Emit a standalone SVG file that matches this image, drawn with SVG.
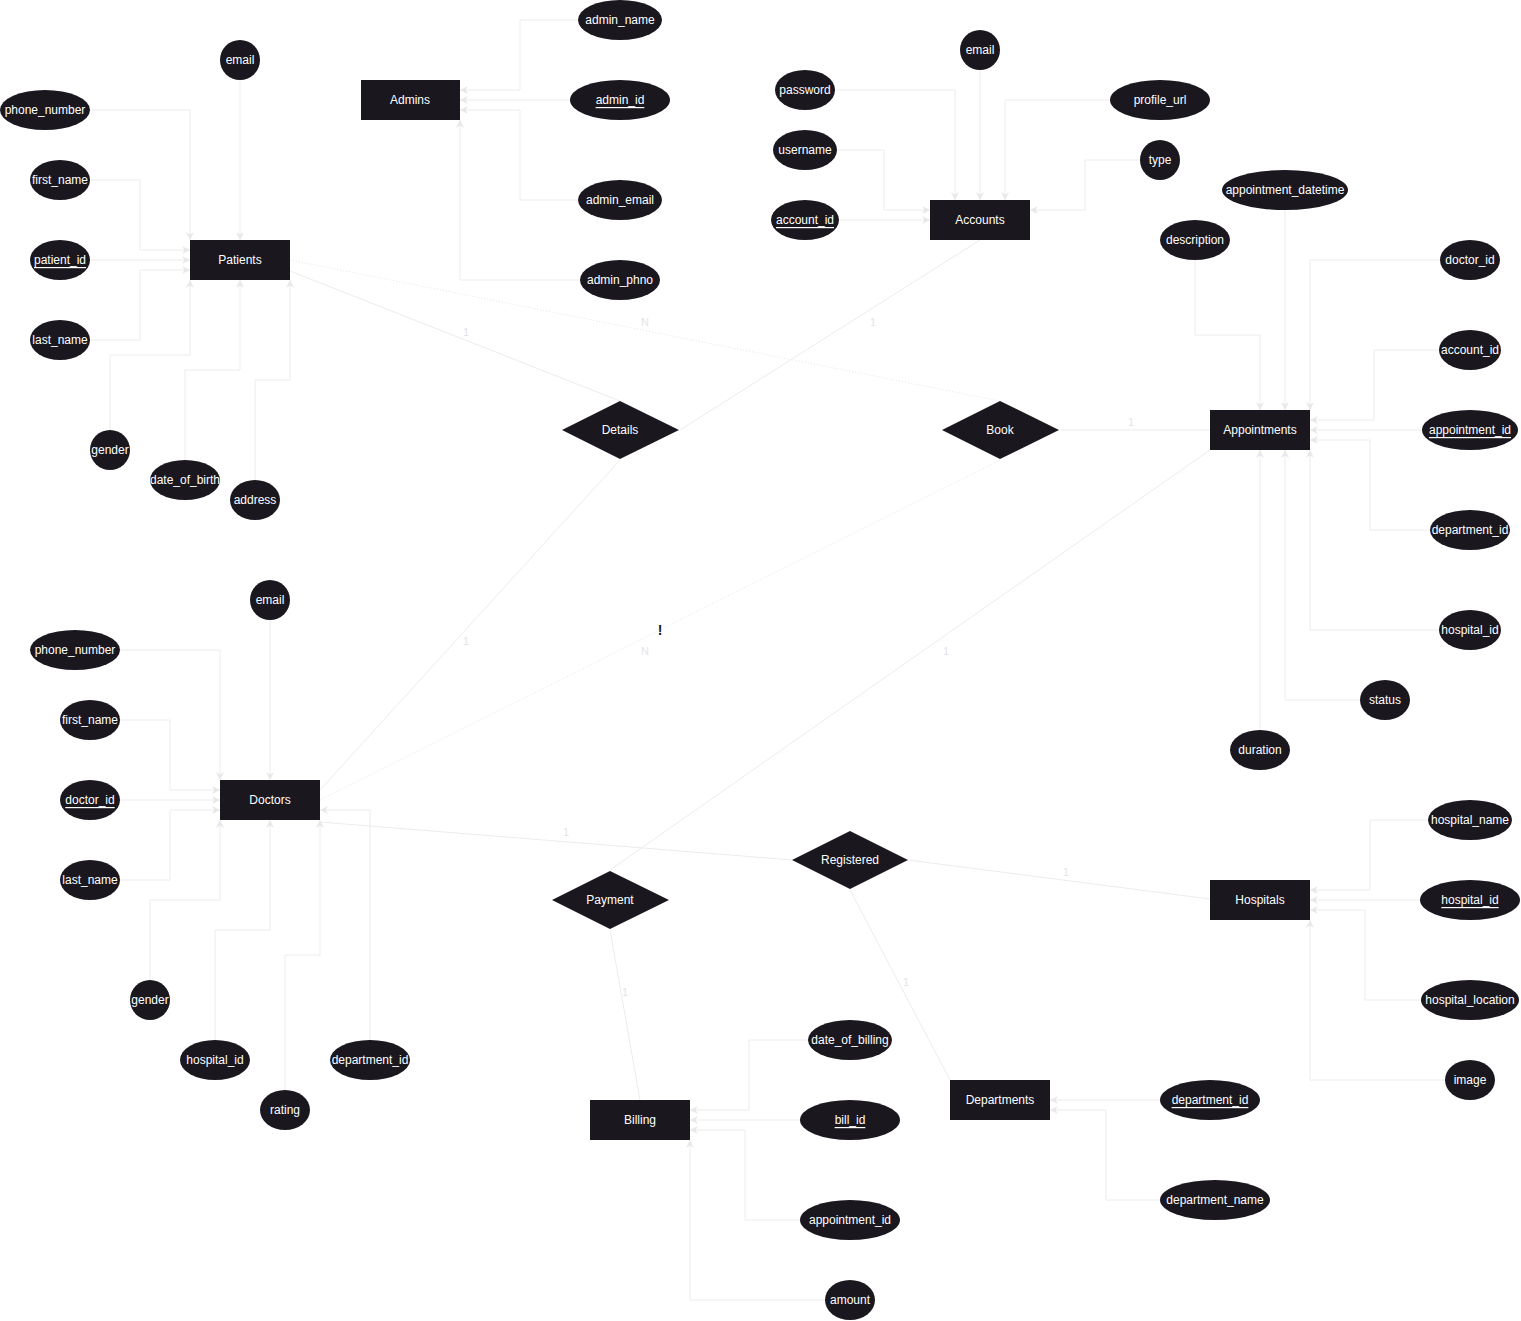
<svg xmlns="http://www.w3.org/2000/svg" width="1521" height="1321" viewBox="0 0 1521 1321">
  <style>
    .ent { fill: #1a171f; }
    .att { fill: #1a171f; }
    .rel { fill: #1a171f; }
    .t { font-family: "Liberation Sans", Arial, sans-serif; font-size: 12px; fill: #ffffff; text-anchor: middle; dominant-baseline: central; }
    .pk { text-decoration: underline; }
    .ln { fill: none; stroke: #ececec; stroke-width: 1; }
    .dot { fill: none; stroke: #e6e6e6; stroke-width: 1; stroke-dasharray: 1 2; }
    .card { font-family: "Liberation Sans", Arial, sans-serif; font-size: 11px; fill: #e4e4e4; text-anchor: middle; dominant-baseline: central; }
  </style>
  <defs>
    <marker id="arr" viewBox="0 0 10 10" refX="10" refY="5" markerWidth="8" markerHeight="8" orient="auto" markerUnits="userSpaceOnUse">
      <path d="M0,0 L10,5 L0,10 L3,5 z" fill="#e8e8e8"/>
    </marker>
  </defs>
  <rect width="1521" height="1321" fill="#ffffff"/>

  <!-- connectors -->
  <g id="connectors">
    <!-- Patients attributes -->
    <path class="ln" d="M90,110 H190 V240" marker-end="url(#arr)"/>
    <path class="ln" d="M240,80 V240" marker-end="url(#arr)"/>
    <path class="ln" d="M90,180 H140 V250 H190" marker-end="url(#arr)"/>
    <path class="ln" d="M90,260 H190" marker-end="url(#arr)"/>
    <path class="ln" d="M90,340 H140 V270 H190" marker-end="url(#arr)"/>
    <path class="ln" d="M110,430 V355 H190 V280" marker-end="url(#arr)"/>
    <path class="ln" d="M185,460 V370 H240 V280" marker-end="url(#arr)"/>
    <path class="ln" d="M255,480 V380 H290 V280" marker-end="url(#arr)"/>
    <!-- Admins attributes -->
    <path class="ln" d="M580,20 H520 V90 H460" marker-end="url(#arr)"/>
    <path class="ln" d="M570,100 H460" marker-end="url(#arr)"/>
    <path class="ln" d="M580,200 H520 V110 H460" marker-end="url(#arr)"/>
    <path class="ln" d="M580,280 H460 V120" marker-end="url(#arr)"/>
    <!-- Accounts attributes -->
    <path class="ln" d="M980,70 V200" marker-end="url(#arr)"/>
    <path class="ln" d="M835,90 H955 V200" marker-end="url(#arr)"/>
    <path class="ln" d="M837,150 H884 V210 H930" marker-end="url(#arr)"/>
    <path class="ln" d="M838,220 H930" marker-end="url(#arr)"/>
    <path class="ln" d="M1110,100 H1005 V200" marker-end="url(#arr)"/>
    <path class="ln" d="M1140,160 H1085 V210 H1030" marker-end="url(#arr)"/>
    <!-- Appointments attributes -->
    <path class="ln" d="M1285,210 V410" marker-end="url(#arr)"/>
    <path class="ln" d="M1195,260 V335 H1260 V410" marker-end="url(#arr)"/>
    <path class="ln" d="M1440,260 H1310 V410" marker-end="url(#arr)"/>
    <path class="ln" d="M1440,350 H1374 V420 H1310" marker-end="url(#arr)"/>
    <path class="ln" d="M1422,430 H1310" marker-end="url(#arr)"/>
    <path class="ln" d="M1430,530 H1370 V440 H1310" marker-end="url(#arr)"/>
    <path class="ln" d="M1440,630 H1310 V450" marker-end="url(#arr)"/>
    <path class="ln" d="M1360,700 H1285 V450" marker-end="url(#arr)"/>
    <path class="ln" d="M1260,730 V450" marker-end="url(#arr)"/>
    <!-- Doctors attributes -->
    <path class="ln" d="M270,620 V780" marker-end="url(#arr)"/>
    <path class="ln" d="M120,650 H220 V780" marker-end="url(#arr)"/>
    <path class="ln" d="M120,720 H170 V790 H220" marker-end="url(#arr)"/>
    <path class="ln" d="M120,800 H220" marker-end="url(#arr)"/>
    <path class="ln" d="M120,880 H170 V810 H220" marker-end="url(#arr)"/>
    <path class="ln" d="M150,980 V900 H220 V820" marker-end="url(#arr)"/>
    <path class="ln" d="M215,1040 V930 H270 V820" marker-end="url(#arr)"/>
    <path class="ln" d="M285,1090 V955 H320 V820" marker-end="url(#arr)"/>
    <path class="ln" d="M370,1040 V810 H320" marker-end="url(#arr)"/>
    <!-- Hospitals attributes -->
    <path class="ln" d="M1428,820 H1370 V890 H1310" marker-end="url(#arr)"/>
    <path class="ln" d="M1420,900 H1310" marker-end="url(#arr)"/>
    <path class="ln" d="M1421,1000 H1365 V910 H1310" marker-end="url(#arr)"/>
    <path class="ln" d="M1445,1080 H1310 V920" marker-end="url(#arr)"/>
    <!-- Billing attributes -->
    <path class="ln" d="M808,1040 H749 V1110 H690" marker-end="url(#arr)"/>
    <path class="ln" d="M800,1120 H690" marker-end="url(#arr)"/>
    <path class="ln" d="M800,1220 H745 V1130 H690" marker-end="url(#arr)"/>
    <path class="ln" d="M825,1300 H690 V1140" marker-end="url(#arr)"/>
    <!-- Departments attributes -->
    <path class="ln" d="M1160,1100 H1050" marker-end="url(#arr)"/>
    <path class="ln" d="M1160,1200 H1106 V1110 H1050" marker-end="url(#arr)"/>

    <!-- relationships -->
    <path class="ln" d="M290,271 L620,401"/>
    <path class="dot" d="M290,260 L1000,401"/>
    <path class="ln" d="M980,240 L680,430"/>
    <path class="ln" d="M620,460 L320,790"/>
    <path class="dot" d="M1000,460 L320,800"/>
    <path class="ln" d="M1060,430 L1210,430"/>
    <path class="ln" d="M1210,450 L610,870"/>
    <path class="ln" d="M320,822 L792,860"/>
    <path class="ln" d="M908,860 L1210,899"/>
    <path class="ln" d="M850,890 L950,1080"/>
    <path class="ln" d="M610,930 L640,1100"/>

    <text class="card" x="466" y="332">1</text>
    <text class="card" x="645" y="322">N</text>
    <text class="card" x="873" y="322">1</text>
    <text class="card" x="466" y="641">1</text>
    <text class="card" x="645" y="651">N</text>
    <text class="card" x="1131" y="422">1</text>
    <text class="card" x="946" y="651">1</text>
    <text class="card" x="566" y="832">1</text>
    <text class="card" x="1066" y="872">1</text>
    <text class="card" x="906" y="982">1</text>
    <text class="card" x="625" y="992">1</text>
    <text x="660" y="630" font-family="Liberation Sans, Arial, sans-serif" font-size="14" font-weight="bold" fill="#1a171f" text-anchor="middle" dominant-baseline="central">!</text>
  </g>

  <!-- entities -->
  <g id="patients"><rect class="ent" x="190" y="240" width="100" height="40"/><text class="t" x="240" y="260">Patients</text></g>
  <g id="admins"><rect class="ent" x="361" y="80" width="99" height="40"/><text class="t" x="410" y="100">Admins</text></g>
  <g id="accounts"><rect class="ent" x="930" y="200" width="100" height="40"/><text class="t" x="980" y="220">Accounts</text></g>
  <g id="appointments"><rect class="ent" x="1210" y="410" width="100" height="40"/><text class="t" x="1260" y="430">Appointments</text></g>
  <g id="doctors"><rect class="ent" x="220" y="780" width="100" height="40"/><text class="t" x="270" y="800">Doctors</text></g>
  <g id="hospitals"><rect class="ent" x="1210" y="880" width="100" height="40"/><text class="t" x="1260" y="900">Hospitals</text></g>
  <g id="billing"><rect class="ent" x="590" y="1100" width="100" height="40"/><text class="t" x="640" y="1120">Billing</text></g>
  <g id="departments"><rect class="ent" x="950" y="1080" width="100" height="40"/><text class="t" x="1000" y="1100">Departments</text></g>

  <!-- relationships -->
  <g id="rel-details"><polygon class="rel" points="620,401 679,430 620,459 562,430"/><text class="t" x="620" y="430">Details</text></g>
  <g id="rel-book"><polygon class="rel" points="1000,401 1059,430 1000,459 942,430"/><text class="t" x="1000" y="430">Book</text></g>
  <g id="rel-registered"><polygon class="rel" points="850,831 908,860 850,889 792,860"/><text class="t" x="850" y="860">Registered</text></g>
  <g id="rel-payment"><polygon class="rel" points="610,871 669,900 610,929 552,900"/><text class="t" x="610" y="900">Payment</text></g>

  <!-- Patients attributes -->
  <g id="patients-email"><ellipse class="att" cx="240" cy="60" rx="20" ry="20"/><text class="t" x="240" y="60">email</text></g>
  <g id="patients-phone_number"><ellipse class="att" cx="45" cy="110" rx="45" ry="20"/><text class="t" x="45" y="110">phone_number</text></g>
  <g id="patients-first_name"><ellipse class="att" cx="60" cy="180" rx="30" ry="20"/><text class="t" x="60" y="180">first_name</text></g>
  <g id="patients-patient_id"><ellipse class="att" cx="60" cy="260" rx="30" ry="20"/><text class="t pk" x="60" y="260">patient_id</text></g>
  <g id="patients-last_name"><ellipse class="att" cx="60" cy="340" rx="30" ry="20"/><text class="t" x="60" y="340">last_name</text></g>
  <g id="patients-gender"><ellipse class="att" cx="110" cy="450" rx="20" ry="20"/><text class="t" x="110" y="450">gender</text></g>
  <g id="patients-date_of_birth"><ellipse class="att" cx="185" cy="480" rx="35" ry="20"/><text class="t" x="185" y="480">date_of_birth</text></g>
  <g id="patients-address"><ellipse class="att" cx="255" cy="500" rx="25" ry="20"/><text class="t" x="255" y="500">address</text></g>

  <!-- Admins attributes -->
  <g id="admins-admin_name"><ellipse class="att" cx="620" cy="20" rx="42" ry="20"/><text class="t" x="620" y="20">admin_name</text></g>
  <g id="admins-admin_id"><ellipse class="att" cx="620" cy="100" rx="50" ry="20"/><text class="t pk" x="620" y="100">admin_id</text></g>
  <g id="admins-admin_email"><ellipse class="att" cx="620" cy="200" rx="42" ry="20"/><text class="t" x="620" y="200">admin_email</text></g>
  <g id="admins-admin_phno"><ellipse class="att" cx="620" cy="280" rx="40" ry="20"/><text class="t" x="620" y="280">admin_phno</text></g>

  <!-- Accounts attributes -->
  <g id="accounts-email"><ellipse class="att" cx="980" cy="50" rx="20" ry="20"/><text class="t" x="980" y="50">email</text></g>
  <g id="accounts-password"><ellipse class="att" cx="805" cy="90" rx="30" ry="20"/><text class="t" x="805" y="90">password</text></g>
  <g id="accounts-username"><ellipse class="att" cx="805" cy="150" rx="32" ry="20"/><text class="t" x="805" y="150">username</text></g>
  <g id="accounts-account_id"><ellipse class="att" cx="805" cy="220" rx="34" ry="20"/><text class="t pk" x="805" y="220">account_id</text></g>
  <g id="accounts-profile_url"><ellipse class="att" cx="1160" cy="100" rx="50" ry="20"/><text class="t" x="1160" y="100">profile_url</text></g>
  <g id="accounts-type"><ellipse class="att" cx="1160" cy="160" rx="20" ry="20"/><text class="t" x="1160" y="160">type</text></g>

  <!-- Appointments attributes -->
  <g id="appointments-appointment_datetime"><ellipse class="att" cx="1285" cy="190" rx="63" ry="20"/><text class="t" x="1285" y="190">appointment_datetime</text></g>
  <g id="appointments-description"><ellipse class="att" cx="1195" cy="240" rx="35" ry="20"/><text class="t" x="1195" y="240">description</text></g>
  <g id="appointments-doctor_id"><ellipse class="att" cx="1470" cy="260" rx="30" ry="20"/><text class="t" x="1470" y="260">doctor_id</text></g>
  <g id="appointments-account_id"><ellipse class="att" cx="1470" cy="350" rx="31" ry="20"/><text class="t" x="1470" y="350">account_id</text></g>
  <g id="appointments-appointment_id"><ellipse class="att" cx="1470" cy="430" rx="48" ry="20"/><text class="t pk" x="1470" y="430">appointment_id</text></g>
  <g id="appointments-department_id"><ellipse class="att" cx="1470" cy="530" rx="40" ry="20"/><text class="t" x="1470" y="530">department_id</text></g>
  <g id="appointments-hospital_id"><ellipse class="att" cx="1470" cy="630" rx="31" ry="20"/><text class="t" x="1470" y="630">hospital_id</text></g>
  <g id="appointments-status"><ellipse class="att" cx="1385" cy="700" rx="25" ry="20"/><text class="t" x="1385" y="700">status</text></g>
  <g id="appointments-duration"><ellipse class="att" cx="1260" cy="750" rx="30" ry="20"/><text class="t" x="1260" y="750">duration</text></g>

  <!-- Doctors attributes -->
  <g id="doctors-email"><ellipse class="att" cx="270" cy="600" rx="20" ry="20"/><text class="t" x="270" y="600">email</text></g>
  <g id="doctors-phone_number"><ellipse class="att" cx="75" cy="650" rx="45" ry="20"/><text class="t" x="75" y="650">phone_number</text></g>
  <g id="doctors-first_name"><ellipse class="att" cx="90" cy="720" rx="30" ry="20"/><text class="t" x="90" y="720">first_name</text></g>
  <g id="doctors-doctor_id"><ellipse class="att" cx="90" cy="800" rx="30" ry="20"/><text class="t pk" x="90" y="800">doctor_id</text></g>
  <g id="doctors-last_name"><ellipse class="att" cx="90" cy="880" rx="30" ry="20"/><text class="t" x="90" y="880">last_name</text></g>
  <g id="doctors-gender"><ellipse class="att" cx="150" cy="1000" rx="20" ry="20"/><text class="t" x="150" y="1000">gender</text></g>
  <g id="doctors-hospital_id"><ellipse class="att" cx="215" cy="1060" rx="35" ry="20"/><text class="t" x="215" y="1060">hospital_id</text></g>
  <g id="doctors-rating"><ellipse class="att" cx="285" cy="1110" rx="25" ry="20"/><text class="t" x="285" y="1110">rating</text></g>
  <g id="doctors-department_id"><ellipse class="att" cx="370" cy="1060" rx="40" ry="20"/><text class="t" x="370" y="1060">department_id</text></g>

  <!-- Hospitals attributes -->
  <g id="hospitals-hospital_name"><ellipse class="att" cx="1470" cy="820" rx="42" ry="20"/><text class="t" x="1470" y="820">hospital_name</text></g>
  <g id="hospitals-hospital_id"><ellipse class="att" cx="1470" cy="900" rx="50" ry="20"/><text class="t pk" x="1470" y="900">hospital_id</text></g>
  <g id="hospitals-hospital_location"><ellipse class="att" cx="1470" cy="1000" rx="49" ry="20"/><text class="t" x="1470" y="1000">hospital_location</text></g>
  <g id="hospitals-image"><ellipse class="att" cx="1470" cy="1080" rx="25" ry="20"/><text class="t" x="1470" y="1080">image</text></g>

  <!-- Billing attributes -->
  <g id="billing-date_of_billing"><ellipse class="att" cx="850" cy="1040" rx="42" ry="20"/><text class="t" x="850" y="1040">date_of_billing</text></g>
  <g id="billing-bill_id"><ellipse class="att" cx="850" cy="1120" rx="50" ry="20"/><text class="t pk" x="850" y="1120">bill_id</text></g>
  <g id="billing-appointment_id"><ellipse class="att" cx="850" cy="1220" rx="50" ry="20"/><text class="t" x="850" y="1220">appointment_id</text></g>
  <g id="billing-amount"><ellipse class="att" cx="850" cy="1300" rx="25" ry="20"/><text class="t" x="850" y="1300">amount</text></g>

  <!-- Departments attributes -->
  <g id="departments-department_id"><ellipse class="att" cx="1210" cy="1100" rx="50" ry="20"/><text class="t pk" x="1210" y="1100">department_id</text></g>
  <g id="departments-department_name"><ellipse class="att" cx="1215" cy="1200" rx="55" ry="20"/><text class="t" x="1215" y="1200">department_name</text></g>
</svg>
